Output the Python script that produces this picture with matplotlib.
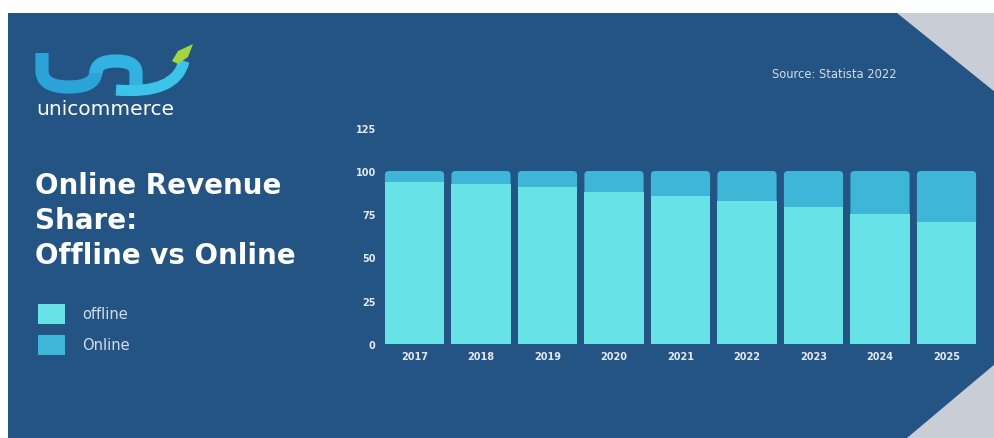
import matplotlib
matplotlib.use("Agg")
import matplotlib.pyplot as plt
from matplotlib.patches import Polygon, Rectangle, PathPatch, FancyBboxPatch
from matplotlib.path import Path

# offline / online share of revenue (%)
years = ['2017', '2018', '2019', '2020', '2021', '2022', '2023', '2024', '2025']
offline = [93.5, 92.5, 90.6, 88.0, 85.7, 82.8, 79.4, 75.1, 70.3]
online = [6.5, 7.5, 9.4, 12.0, 14.3, 17.2, 20.6, 24.9, 29.7]
yticks = [0, 25, 50, 75, 100, 125]

bg = '#245484'
c_off = '#67e3e8'
c_on = '#3db6d8'
grey = '#c9ced6'
txt = '#d3dce6'

W, H = 995, 439
fig = plt.figure(figsize=(W / 100, H / 100), dpi=100)
fig.patch.set_facecolor('white')

# full-figure canvas in pixel units for the backdrop, logo and captions
bgax = fig.add_axes([0, 0, 1, 1])
bgax.set_xlim(0, W)
bgax.set_ylim(H, 0)
bgax.axis('off')
bgax.add_patch(Rectangle((8, 14), W - 8, H - 14, color=bg, lw=0))
bgax.add_patch(Polygon([(897, 14), (W, 14), (W, 93)], closed=True, color=grey, lw=0))
bgax.add_patch(Polygon([(907, H), (W, 365), (W, H)], closed=True, color=grey, lw=0))

# logo mark
def stroke(verts, codes, color, lw):
    p = PathPatch(Path(verts, codes), fill=False, edgecolor=color, lw=lw,
                  capstyle='butt', joinstyle='round')
    bgax.add_patch(p)

M, L, C = Path.MOVETO, Path.LINETO, Path.CURVE3
stroke([(42, 54), (42, 72), (42, 88), (69, 88), (96, 88), (96, 72)],
       [M, L, C, C, C, C], '#2aa3d9', 9.5)
stroke([(96, 74), (96, 62), (116, 62), (136, 62), (136, 74), (136, 88)],
       [M, C, C, C, C, L], '#32b2e2', 9.5)
stroke([(116, 91), (176, 96), (184, 62)], [M, C, C], '#3cc3ea', 8)
bgax.add_patch(Polygon([(172, 62), (178, 52), (193, 45), (188, 58), (178, 65)],
                       closed=True, color='#a3d63c', lw=0))
bgax.text(36, 110, 'unicommerce', color='white', fontsize=14.5,
          family='DejaVu Sans', va='center', ha='left')

# title and legend
bgax.text(35, 221, 'Online Revenue\nShare:\nOffline vs Online', color='white',
          fontsize=20, fontweight='bold', family='DejaVu Sans',
          va='center', ha='left', linespacing=1.32)
for i, (name, col) in enumerate([('offline', c_off), ('Online', c_on)]):
    y0 = 305 + i * 31
    bgax.add_patch(Rectangle((38, y0), 27, 20, color=col, lw=0))
    bgax.text(82, y0 + 10, name, color=txt, fontsize=10.5, va='center', ha='left')

bgax.text(834, 75, 'Source: Statista 2022', color=txt, fontsize=8.3,
          va='center', ha='center')

# stacked bar chart
ax = fig.add_axes([381.25 / W, 1 - 345 / H, 598.5 / W, 216.25 / H])
ax.set_facecolor('none')
x = list(range(len(years)))
ax.bar(x, offline, width=0.89, color=c_off, lw=0, zorder=3)
tops = ax.bar(x, online, bottom=offline, width=0.89, color=c_on, lw=0, zorder=2)
ax.set_xlim(-0.5, len(years) - 0.5)
ax.set_ylim(0, 125)

# rounded caps on the online segments
px_x = 598.5 / (len(years))
px_y = 216.25 / 125
for r in tops:
    r.set_visible(False)
    bx, by, bw, bh = r.get_x(), r.get_y(), r.get_width(), r.get_height()
    ax.add_patch(FancyBboxPatch((bx, by - 3), bw, bh + 3,
                                boxstyle='round,pad=0,rounding_size=%f' % (4 / px_x),
                                mutation_aspect=px_x / px_y,
                                fc=c_on, lw=0, zorder=2))

ax.set_yticks(yticks)
ax.set_yticklabels([str(t) for t in yticks])
ax.set_xticks(x)
ax.set_xticklabels(years)
for s in ax.spines.values():
    s.set_visible(False)
ax.tick_params(axis='both', length=0, colors='#e3e9f0', labelsize=7)
ax.tick_params(axis='y', pad=4)
ax.tick_params(axis='x', pad=5)
for lab in ax.get_xticklabels() + ax.get_yticklabels():
    lab.set_fontweight('bold')

fig.savefig('out.png', dpi=100, facecolor=fig.get_facecolor())
